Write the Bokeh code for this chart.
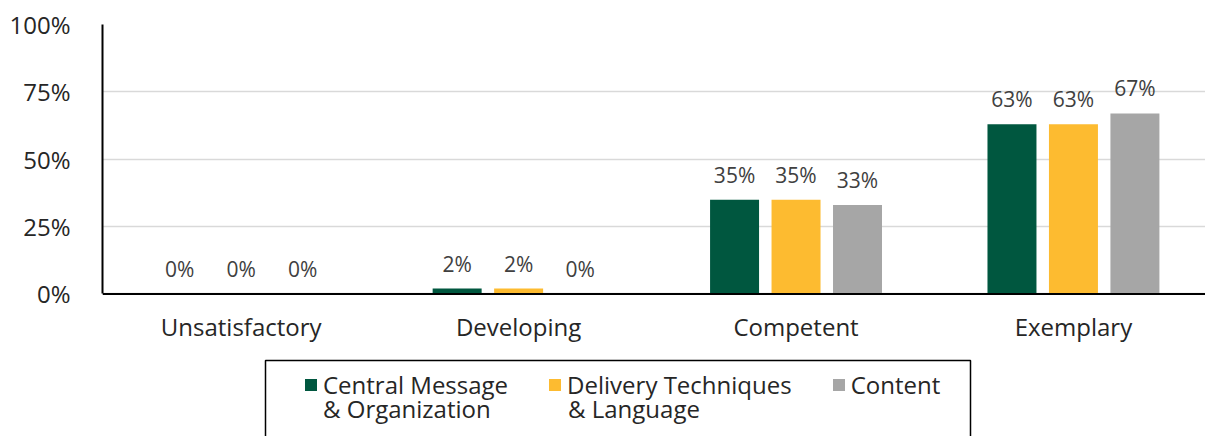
from bokeh.plotting import figure
from bokeh.models import (ColumnDataSource, Range1d, Legend, LegendItem,
                          NumeralTickFormatter, FixedTicker, Span, BoxAnnotation)
from bokeh.transform import dodge
from bokeh.core.properties import value
from bokeh.embed import file_html
from bokeh.resources import INLINE

categories = ["Unsatisfactory", "Developing", "Competent", "Exemplary"]
series_line1 = ["Central Message", "Delivery Techniques", "Content"]
series_line2 = ["& Organization", "& Language"]
central = [0.0, 0.02, 0.35, 0.63]
delivery = [0.0, 0.02, 0.35, 0.63]
content = [0.0, 0.0, 0.33, 0.67]
y_ticks = [0, 0.25, 0.5, 0.75, 1.0]
colors = ["#00573F", "#FDBB30", "#A6A6A6"]

FONT = "Open Sans"

src = ColumnDataSource(dict(
    cat=categories,
    x=[i + 0.5 for i in range(len(categories))],
    base=[0.0] * len(categories),
    central=central, delivery=delivery, content=content,
    central_lbl=[f"{round(v*100)}%" for v in central],
    delivery_lbl=[f"{round(v*100)}%" for v in delivery],
    content_lbl=[f"{round(v*100)}%" for v in content],
))

# the reference chart is cropped on the right: the last category slot runs past the edge
p = figure(x_range=Range1d(0, 3.976), y_range=Range1d(-0.5288, 1),
           frame_width=1103, frame_height=412, x_axis_location=None,
           min_border_left=102, min_border_top=24, min_border_right=0, min_border_bottom=0,
           output_backend="svg", toolbar_location=None, outline_line_color=None)

offsets = [-0.2216, 0.0, 0.2216]
fields = ["central", "delivery", "content"]
renderers = []
for f, off, c in zip(fields, offsets, colors):
    r = p.vbar(x=dodge("x", off), top=f, width=0.1766, source=src,
               fill_color=c, line_color=None)
    renderers.append(r)
    p.text(x=dodge("x", off), y=f, text=f + "_lbl", source=src,
           text_align="center", text_baseline="alphabetic", y_offset=-25,
           text_font=value(FONT), text_font_size="21px", text_color="#404040")

# category labels (x axis)
p.text(x="x", y="base", text="cat", source=src, text_align="center",
       text_baseline="alphabetic", y_offset=33, text_font=value(FONT),
       text_font_size="24px", text_color="#262626")
p.add_layout(Span(location=0, dimension="width", line_color="black", line_width=2))

p.yaxis.ticker = FixedTicker(ticks=y_ticks)
p.ygrid.ticker = FixedTicker(ticks=y_ticks)
p.yaxis.bounds = (0, 1)
p.yaxis.formatter = NumeralTickFormatter(format="0%")
p.yaxis.axis_line_color = "black"
p.yaxis.axis_line_width = 2
p.yaxis.major_tick_line_color = None
p.yaxis.minor_tick_line_color = None
p.yaxis.major_label_text_font = FONT
p.yaxis.major_label_text_font_size = "24px"
p.yaxis.major_label_text_color = "#262626"
p.yaxis.major_label_standoff = 26
p.xgrid.grid_line_color = None
p.ygrid.grid_line_color = "#D9D9D9"
p.ygrid.grid_line_width = 1.5

# legend frame
p.add_layout(BoxAnnotation(left=163, right=868, top=76, bottom=-10,
                           left_units="screen", right_units="screen",
                           top_units="screen", bottom_units="screen",
                           fill_alpha=0, line_color="black", line_width=1.5, line_alpha=1))

common = dict(orientation="horizontal", padding=0, glyph_width=15, glyph_height=15,
              label_standoff=5, spacing=39, label_text_font=FONT,
              label_text_font_size="24px", label_text_color="#262626",
              border_line_alpha=0, background_fill_alpha=0)

leg1 = Legend(items=[LegendItem(label=n, renderers=[r]) for n, r in zip(series_line1, renderers)],
              location=(201, 35), **common)
p.add_layout(leg1, "center")

blank = p.vbar(x=[], top=[], width=0.1, fill_alpha=0, line_alpha=0)
leg2 = Legend(items=[LegendItem(label=n, renderers=[blank]) for n in series_line2],
              location=(201, 11), label_width=186, **common)
p.add_layout(leg2, "center")

open("out.html", "w").write(file_html(p, INLINE))
